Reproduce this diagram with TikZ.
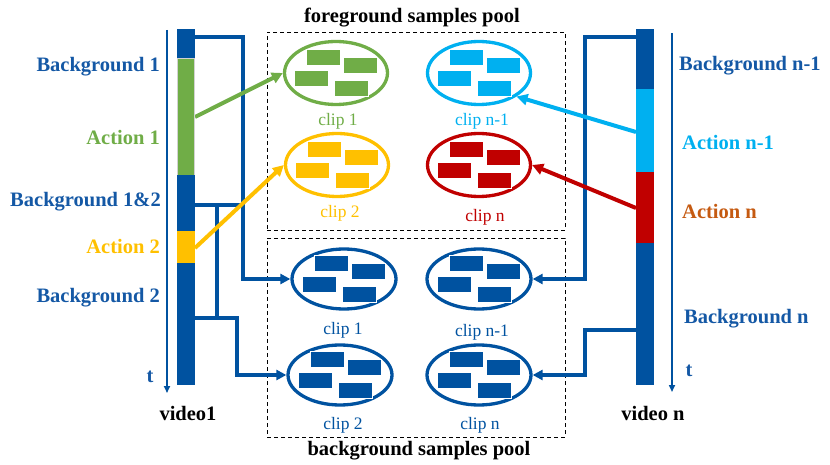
\documentclass[tikz,border=0pt]{standalone}
\usepackage{fontspec}
\setmainfont{Liberation Serif}
\usetikzlibrary{shapes.geometric,arrows.meta}
\definecolor{vblue}{RGB}{0,82,160}
\definecolor{tblue}{RGB}{20,88,165}
\definecolor{agreen}{RGB}{112,173,71}
\definecolor{ayellow}{RGB}{255,192,0}
\definecolor{acyan}{RGB}{0,176,240}
\definecolor{ared}{RGB}{192,0,0}
\definecolor{aorange}{RGB}{197,90,17}
\newcommand\clipblocks[2]{%
  \begin{scope}[shift={(#1)}]
    \foreach \cx/\cy in {-12.5/-16,24/-8,-24.5/5,15.5/15.5}{
      \filldraw[fill=#2, draw=white, line width=0.4pt] (\cx-17,\cy-8) rectangle (\cx+17,\cy+8);
    }
  \end{scope}}
\begin{document}
\begin{tikzpicture}[x=1pt,y=-1pt,
  lbl/.style={font=\fontsize{20.5}{24}\selectfont\bfseries, inner sep=0pt},
  cliplbl/.style={font=\fontsize{17.5}{20}\selectfont, inner sep=0pt, anchor=base},
  fgell/.style={ellipse, draw=#1, line width=3.3pt, minimum width=103pt, minimum height=63pt, inner sep=0pt},
  bgell/.style={ellipse, draw=vblue, line width=3.3pt, minimum width=104pt, minimum height=60pt, inner sep=0pt},
  conn/.style={draw=vblue, line width=3.4pt},
  tip/.style={-{Triangle[length=10pt,width=10pt]}},
  acttip/.style={-{Triangle[length=11pt,width=11pt]}},
  pool/.style={draw, line width=0.9pt, dash pattern=on 4pt off 3pt, inner sep=0pt, outer sep=0pt, anchor=north west},
  axis/.style={draw=vblue, line width=1.6pt, -{Triangle[length=7pt,width=6pt]}},
]
\useasboundingbox (0,0) rectangle (830,465);

% pools
\node[pool, minimum width=298pt, minimum height=198pt] (fgpool) at (267,32) {};
\node[pool, minimum width=298pt, minimum height=199pt] (bgpool) at (267,238) {};
\node[lbl, anchor=base] (fgtitle) at (412,23) {foreground samples pool};
\node[lbl, anchor=base] (bgtitle) at (419,455.5) {background samples pool};

% ellipses
\node[fgell=agreen] (fg1) at (336,73) {};
\node[fgell=acyan] (fgn1) at (479,73) {};
\node[fgell=ayellow] (fg2) at (337,165) {};
\node[fgell=ared] (fgn) at (479,165) {};
\node[bgell] (bg1) at (344,279) {};
\node[bgell] (bgn1) at (479,279) {};
\node[bgell] (bg2) at (340,375) {};
\node[bgell] (bgn) at (479,375) {};

\clipblocks{fg1.center}{agreen}
\clipblocks{fgn1.center}{acyan}
\clipblocks{fg2.center}{ayellow}
\clipblocks{fgn.center}{ared}
\clipblocks{bg1.center}{vblue}
\clipblocks{bgn1.center}{vblue}
\clipblocks{bg2.center}{vblue}
\clipblocks{bgn.center}{vblue}

% clip labels
\node[cliplbl, text=agreen] (c1) at (338,126) {clip 1};
\node[cliplbl, text=acyan] (cn1) at (482,126) {clip n-1};
\node[cliplbl, text=ayellow] (c2) at (340,218) {clip 2};
\node[cliplbl, text=ared] (cn) at (485,222) {clip n};
\node[cliplbl, text=vblue] (bc1) at (343,334) {clip 1};
\node[cliplbl, text=vblue] (bcn1) at (482,336) {clip n-1};
\node[cliplbl, text=vblue] (bc2) at (343,429) {clip 2};
\node[cliplbl, text=vblue] (bcn) at (480,429) {clip n};

% connector coordinates
\coordinate (L1) at (195,37);
\coordinate (J0) at (243,37);
\coordinate (L12) at (195,205);
\coordinate (J1) at (243,205);
\coordinate (J2) at (217,205);
\coordinate (J3) at (217,318);
\coordinate (L2) at (195,318);
\coordinate (J4) at (237,318);
\coordinate (R1) at (636,37);
\coordinate (K1) at (585,37);
\coordinate (R2) at (636,330);
\coordinate (K2) at (585,330);

\draw[conn, tip] (L1) -- (J0) |- (bg1.west);
\draw[conn] (L12) -- (J1);
\draw[conn] (J2) -- (J3);
\draw[conn, tip] (L2) -- (J4) |- (bg2.west);
\draw[conn, tip] (R1) -- (K1) |- (bgn1.east);
\draw[conn, tip] (R2) -- (K2) |- (bgn.east);

% action arrows
\coordinate (a1) at (195,117);
\coordinate (a2) at (195,248);
\coordinate (an1) at (636,132);
\coordinate (an) at (636,208);
\draw[agreen, line width=4pt, acttip] (a1) -- (fg1.west);
\draw[ayellow, line width=4pt, acttip] (a2) -- (fg2.west);
\draw[acyan, line width=4pt, acttip] (an1) -- (fgn1.-32);
\draw[ared, line width=4pt, acttip] (an) -- (fgn.east);

% bars
\fill[vblue] (177,29) rectangle (195,58);
\filldraw[fill=agreen, draw=gray!35, line width=0.8pt] (177.4,58) rectangle (194.6,175);
\fill[vblue] (177,175) rectangle (195,231);
\fill[ayellow] (177,231) rectangle (195,263);
\fill[vblue] (177,263) rectangle (195,385);
\fill[vblue] (636,29) rectangle (654,89);
\fill[acyan] (636,89) rectangle (654,172);
\fill[ared] (636,172) rectangle (654,243);
\fill[vblue] (636,243) rectangle (654,385);

% axes
\coordinate (tl0) at (167,30);
\coordinate (tl1) at (167,393);
\coordinate (tr0) at (672,33);
\coordinate (tr1) at (672,392);
\draw[axis] (tl0) -- (tl1);
\draw[axis] (tr0) -- (tr1);

% left labels
\node[lbl, text=tblue, anchor=base east] (lb1) at (160,71.5) {Background 1};
\node[lbl, text=agreen, anchor=base east] (la1) at (160,145) {Action 1};
\node[lbl, text=tblue, anchor=base east] (lb12) at (161,207) {Background 1\&2};
\node[lbl, text=ayellow, anchor=base east] (la2) at (160,254) {Action 2};
\node[lbl, text=tblue, anchor=base east] (lb2) at (160,302.5) {Background 2};
\node[lbl, text=tblue, anchor=base] (tl) at (150,382.5) {t};
\node[lbl, anchor=base] (v1) at (188,420) {video1};

% right labels
\node[lbl, text=tblue, anchor=base west] (rbn1) at (679,70.5) {Background n-1};
\node[lbl, text=acyan, anchor=base west] (ran1) at (682,150) {Action n-1};
\node[lbl, text=aorange, anchor=base west] (ran) at (682,219) {Action n};
\node[lbl, text=tblue, anchor=base west] (rbn) at (684,323) {Background n};
\node[lbl, text=tblue, anchor=base] (tr) at (689,376) {t};
\node[lbl, anchor=base] (vn) at (653,420) {video n};
\end{tikzpicture}
\end{document}
